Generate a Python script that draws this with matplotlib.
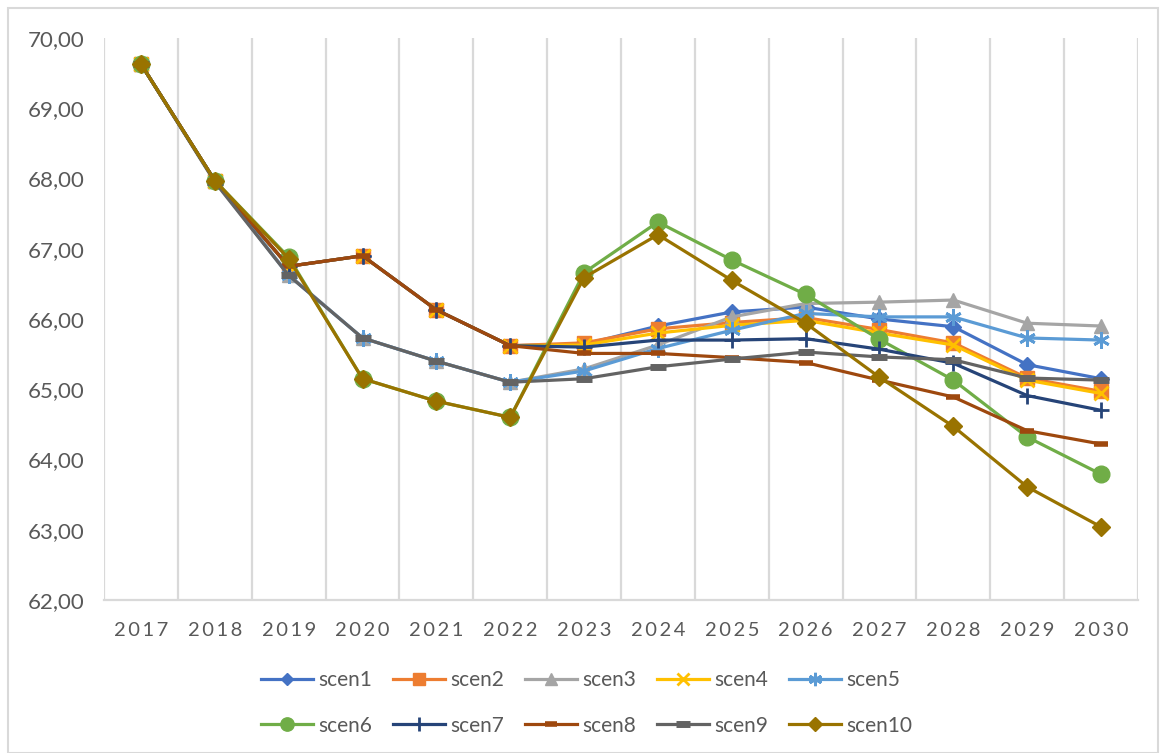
import matplotlib
matplotlib.use('Agg')
import matplotlib.pyplot as plt
from matplotlib.patches import Rectangle
from matplotlib.ticker import FuncFormatter
import numpy as np

years = ['2017', '2018', '2019', '2020', '2021', '2022', '2023',
         '2024', '2025', '2026', '2027', '2028', '2029', '2030']

scen1 = [69.63, 67.97, 66.75, 66.90, 66.13, 65.62, 65.64, 65.90, 66.10, 66.17, 66.00, 65.89, 65.35, 65.15]
scen2 = [69.63, 67.97, 66.75, 66.90, 66.13, 65.62, 65.66, 65.86, 65.95, 66.02, 65.85, 65.66, 65.16, 64.97]
scen3 = [69.63, 67.97, 66.63, 65.73, 65.40, 65.10, 65.29, 65.63, 66.03, 66.22, 66.24, 66.27, 65.94, 65.90]
scen4 = [69.63, 67.97, 66.75, 66.90, 66.13, 65.62, 65.63, 65.80, 65.91, 65.98, 65.80, 65.63, 65.13, 64.94]
scen5 = [69.63, 67.97, 66.62, 65.73, 65.40, 65.10, 65.26, 65.58, 65.84, 66.08, 66.03, 66.03, 65.73, 65.70]
scen6 = [69.63, 67.97, 66.88, 65.15, 64.83, 64.60, 66.66, 67.38, 66.84, 66.35, 65.71, 65.13, 64.32, 63.79]
scen7 = [69.63, 67.97, 66.75, 66.90, 66.13, 65.62, 65.60, 65.70, 65.70, 65.72, 65.57, 65.37, 64.91, 64.70]
scen8 = [69.63, 67.97, 66.75, 66.90, 66.13, 65.62, 65.51, 65.51, 65.45, 65.38, 65.13, 64.89, 64.41, 64.22]
scen9 = [69.63, 67.95, 66.62, 65.73, 65.40, 65.10, 65.15, 65.32, 65.43, 65.53, 65.46, 65.42, 65.16, 65.13]
scen10 = [69.63, 67.97, 66.86, 65.15, 64.83, 64.60, 66.59, 67.20, 66.55, 65.94, 65.17, 64.47, 63.61, 63.04]

series = [scen1, scen2, scen3, scen4, scen5, scen6, scen7, scen8, scen9, scen10]
names = ['scen1', 'scen2', 'scen3', 'scen4', 'scen5',
         'scen6', 'scen7', 'scen8', 'scen9', 'scen10']
colors = ['#4472C4', '#ED7D31', '#A5A5A5', '#FFC000', '#5B9BD5',
          '#70AD47', '#264478', '#9E480E', '#636363', '#997300']
markers = ['D', 's', '^', 'x', (6, 2, 0), 'o', '+', '_', '_', 'D']
msizes = [8, 10, 10, 10, 12, 12, 12, 10, 12, 9]
mews = [1, 1, 1, 2, 2, 1, 2, 4, 5, 1]

plt.rcParams['font.family'] = ['Lato', 'DejaVu Sans']
txt = '#595959'

fig = plt.figure(figsize=(11.61, 7.53), dpi=100)
fig.patches.append(Rectangle((0.007, 0.0), 0.99, 0.99, transform=fig.transFigure,
                             fill=False, edgecolor='#D9D9D9', linewidth=1.5))
ax = fig.add_axes([104 / 1161, 1 - 600 / 753, (1138 - 104) / 1161, (600 - 38) / 753])

x = np.arange(len(years))
lines = []
for i in range(len(series)):
    ln, = ax.plot(x, series[i], color=colors[i], linewidth=2.3, marker=markers[i],
                  markersize=msizes[i], markeredgewidth=mews[i],
                  markerfacecolor=colors[i], markeredgecolor=colors[i], label=names[i])
    lines.append(ln)

for b in np.arange(-0.5, len(years), 1.0):
    ax.axvline(b, color='#D9D9D9', linewidth=1.6, zorder=0)

ax.set_xlim(-0.5, len(years) - 0.5)
ax.set_ylim(62, 70)
ax.set_yticks(np.arange(62, 71, 1))
ax.yaxis.set_major_formatter(FuncFormatter(lambda v, p: ('%.2f' % v).replace('.', ',')))
ax.set_xticks(x)
# excel spreads the year digits a little
ax.set_xticklabels(['\u2009'.join(y) for y in years])
ax.tick_params(axis='both', length=0, labelcolor=txt)
ax.tick_params(axis='y', labelsize=16, pad=14)
ax.tick_params(axis='x', labelsize=14.5, pad=16)
for s in ['top', 'right', 'left']:
    ax.spines[s].set_visible(False)
ax.spines['bottom'].set_color('#D9D9D9')
ax.spines['bottom'].set_linewidth(1.6)

# legend fills column by column, so reorder to get rows scen1..5 / scen6..10
order = [0, 5, 1, 6, 2, 7, 3, 8, 4, 9]
fig.legend([lines[k] for k in order], [names[k] for k in order],
           loc='center', bbox_to_anchor=(0.505, 1 - 703 / 753), ncol=5,
           frameon=False, fontsize=15, labelcolor=txt, handlelength=2.5,
           handletextpad=0.25, columnspacing=1.0, labelspacing=1.2, markerscale=0.8)

fig.savefig('out.png', dpi=100)
